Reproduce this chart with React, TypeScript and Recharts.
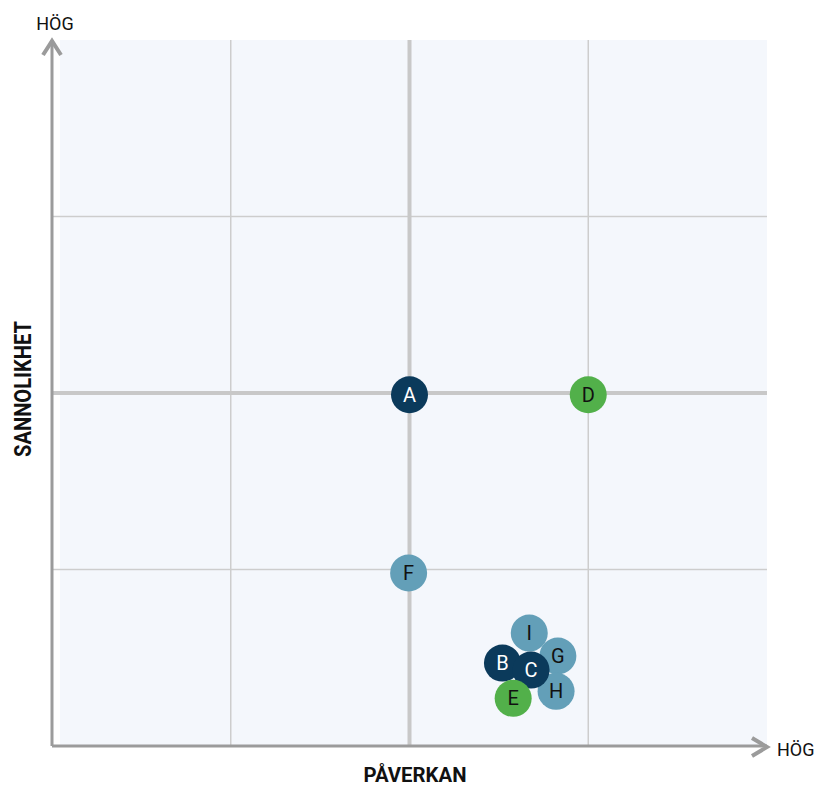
import { ScatterChart, Scatter, XAxis, YAxis, ReferenceLine, ReferenceArea } from 'recharts';

// Risk points, listed in draw order (later ones sit on top)
const labels = ['A', 'D', 'F', 'I', 'G', 'H', 'B', 'C', 'E'];
const impact = [2.0, 3.0, 1.995, 2.67, 2.83, 2.82, 2.52, 2.68, 2.58];
const likelihood = [1.99, 1.99, 0.98, 0.64, 0.51, 0.31, 0.47, 0.43, 0.27];
const groups = ['dark', 'green', 'light', 'light', 'light', 'light', 'dark', 'dark', 'green'];

const thinGrid = [1, 3];
const midLine = 2;
const axisTicks = [0, 1, 2, 3, 4];

const colors: Record<string, string> = { dark: '#0b3a5b', green: '#52b04a', light: '#639fb8' };
const textColors: Record<string, string> = { dark: '#ffffff', green: '#111111', light: '#111111' };

const data = labels.map((name, i) => ({ name, x: impact[i], y: likelihood[i], group: groups[i] }));

const AXIS = '#9b9b9b';
const FONT = 'Roboto, "Noto Sans", sans-serif';

function Bubble(props: any) {
  const { cx, cy, payload } = props;
  return (
    <g>
      <circle cx={cx} cy={cy} r={18.5} fill={colors[payload.group]} />
      <text x={cx} y={cy} dy={7} textAnchor="middle" fontSize={20} fontFamily={FONT} fill={textColors[payload.group]}>
        {payload.name}
      </text>
    </g>
  );
}

function XLabel(props: any) {
  const { x, y, width } = props.viewBox;
  const end = x + width;
  return (
    <g>
      <polyline points={`${end - 15},${y - 8} ${end},${y + 1} ${end - 15},${y + 10}`} fill="none" stroke={AXIS} strokeWidth={4} />
      <text x={end + 10} y={y + 10} fontSize={18} fontFamily={FONT} fill="#111">HÖG</text>
      <text
        x={415}
        y={y + 36}
        textAnchor="middle"
        fontSize={20}
        fontWeight={700}
        fontFamily={FONT}
        fill="#111"
        textLength={103}
        lengthAdjust="spacingAndGlyphs"
      >
        PÅVERKAN
      </text>
    </g>
  );
}

function YLabel(props: any) {
  const { x, y, width, height } = props.viewBox;
  const ax = x + width;
  const cy = y + height / 2 - 4;
  return (
    <g>
      <polyline points={`${ax - 9},${y + 15} ${ax},${y + 1} ${ax + 9},${y + 15}`} fill="none" stroke={AXIS} strokeWidth={4} />
      <text x={ax + 3} y={y - 10} textAnchor="middle" fontSize={18} fontFamily={FONT} fill="#111">HÖG</text>
      <text
        x={23}
        y={cy}
        dy={8}
        textAnchor="middle"
        fontSize={23}
        fontWeight={700}
        fontFamily={FONT}
        fill="#111"
        textLength={136}
        lengthAdjust="spacingAndGlyphs"
        transform={`rotate(-90, 23, ${cy})`}
      >
        SANNOLIKHET
      </text>
    </g>
  );
}

export default function App() {
  return (
    <div style={{ position: 'absolute', left: 0, top: 0 }}>
      <ScatterChart width={816} height={787} margin={{ top: 40, right: 49, left: 0, bottom: 0 }} style={{ fontFamily: FONT }}>
        <ReferenceArea x1={0.045} x2={4} y1={0} y2={4} fill="#f4f7fc" fillOpacity={1} stroke="none" />
        {thinGrid.map((v) => (
          <ReferenceLine key={'x' + v} x={v} stroke="#cdcdcd" strokeWidth={1.5} />
        ))}
        {thinGrid.map((v) => (
          <ReferenceLine key={'y' + v} y={v} stroke="#cdcdcd" strokeWidth={1.5} />
        ))}
        <ReferenceLine x={midLine} stroke="#c8c8c8" strokeWidth={4} />
        <ReferenceLine y={midLine} stroke="#c8c8c8" strokeWidth={4} />
        <XAxis
          type="number"
          dataKey="x"
          domain={[0, 4]}
          ticks={axisTicks}
          height={41}
          tick={false}
          tickLine={false}
          axisLine={{ stroke: AXIS, strokeWidth: 3 }}
          label={<XLabel />}
        />
        <YAxis
          type="number"
          dataKey="y"
          domain={[0, 4]}
          ticks={axisTicks}
          width={52}
          tick={false}
          tickLine={false}
          axisLine={{ stroke: AXIS, strokeWidth: 3 }}
          label={<YLabel />}
        />
        <Scatter data={data} shape={<Bubble />} isAnimationActive={false} />
      </ScatterChart>
    </div>
  );
}
